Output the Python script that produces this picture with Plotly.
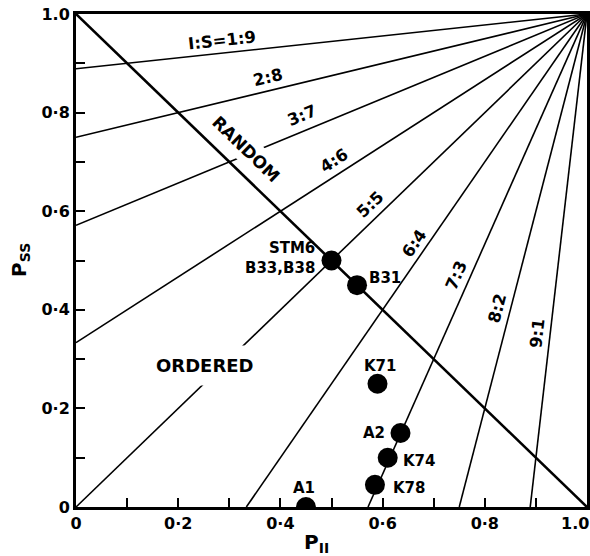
import math
import plotly.graph_objects as go

# ---------------- data ----------------
ratio_labels = ["I:S=1:9", "2:8", "3:7", "4:6", "5:5", "6:4", "7:3", "8:2", "9:1"]
i_parts = [1, 2, 3, 4, 5, 6, 7, 8, 9]
s_parts = [9, 8, 7, 6, 5, 4, 3, 2, 1]

samples = ["STM6<br>B33,B38", "B31", "K71", "A2", "K74", "K78", "A1"]
p_ii = [0.50, 0.55, 0.59, 0.635, 0.61, 0.585, 0.45]
p_ss = [0.50, 0.45, 0.25, 0.15, 0.10, 0.045, 0.0]

random_x = [0.0, 1.0]
random_y = [1.0, 0.0]

x_tick_vals = [0, 0.2, 0.4, 0.6, 0.8]
x_tick_text = ["0", "0·2", "0·4", "0·6", "0·8"]
y_tick_vals = [0, 0.2, 0.4, 0.6, 0.8, 1.0]
y_tick_text = ["0", "0·2", "0·4", "0·6", "0·8", "1.0"]

# ---------------- layout geometry (pixels) ----------------
W, H = 590, 556
ML, MR, MT, MB = 76, 3, 14, 49
PW, PH = W - ML - MR, H - MT - MB
FONT = "DejaVu Sans"
BLACK = "#000000"


def dx(px):
    return (px - ML) / PW


def dy(py):
    return (MT + PH - py) / PH


fig = go.Figure()

# iso-ratio lines through (1,1)
line_angles = []
for ip, sp in zip(i_parts, s_parts):
    r = ip / sp  # (1-Pss)/(1-Pii)
    if r <= 1:
        x0, y0 = 0.0, 1.0 - r
    else:
        x0, y0 = 1.0 - 1.0 / r, 0.0
    fig.add_trace(go.Scatter(x=[x0, 1.0], y=[y0, 1.0], mode="lines",
                             line=dict(color=BLACK, width=1.6),
                             hoverinfo="skip", showlegend=False))
    slope_px = ((1.0 - y0) / (1.0 - x0)) * PH / PW
    line_angles.append(-math.degrees(math.atan(slope_px)))

# random line
fig.add_trace(go.Scatter(x=random_x, y=random_y, mode="lines",
                         line=dict(color=BLACK, width=2.6),
                         hoverinfo="skip", showlegend=False))

# sample points
fig.add_trace(go.Scatter(x=p_ii, y=p_ss, mode="markers",
                         marker=dict(color=BLACK, size=20, line=dict(width=0)),
                         cliponaxis=True, showlegend=False))

ann = []
# ratio labels (pixel centres)
ratio_label_pos = [(222, 40), (268, 77), (302, 115), (334, 160), (370, 204),
                   (414, 243), (456, 275), (497, 308), (537, 333)]
for txt, (px, py), ang in zip(ratio_labels, ratio_label_pos, line_angles):
    ann.append(dict(x=dx(px), y=dy(py), xref="x", yref="y", text=txt,
                    showarrow=False, textangle=ang, xanchor="center",
                    yanchor="middle",
                    font=dict(family=FONT, size=16.5, color=BLACK, weight="bold")))

# region labels
ann.append(dict(x=dx(246), y=dy(149), xref="x", yref="y", text="RANDOM",
                showarrow=False, textangle=44, bgcolor="white", borderpad=3,
                font=dict(family=FONT, size=17, color=BLACK, weight="bold")))
ann.append(dict(x=dx(205), y=dy(365), xref="x", yref="y", text="ORDERED",
                showarrow=False, bgcolor="white", borderpad=9,
                font=dict(family=FONT, size=18, color=BLACK, weight="bold")))

# sample labels: (px, py, xanchor)
sample_label_pos = [(317, 258, "right"), (367, 278, "left"), (380, 366, "center"),
                    (387, 433, "right"), (401, 461, "left"), (391, 488, "left"),
                    (304, 488, "center")]
for txt, (px, py, xa) in zip(samples, sample_label_pos):
    ann.append(dict(x=dx(px), y=dy(py), xref="x", yref="y", text=txt,
                    showarrow=False, xanchor=xa, yanchor="middle",
                    align="right" if xa == "right" else "left",
                    font=dict(family=FONT, size=15, color=BLACK, weight="bold")))

# x tick label "1.0" (shifted inward as in reference)
ann.append(dict(x=dx(575), y=dy(523), xref="paper", yref="paper", text="1.0",
                showarrow=False, xanchor="center", yanchor="middle",
                font=dict(family=FONT, size=16, color=BLACK, weight="bold")))

# axis titles
ann.append(dict(x=dx(316), y=dy(543), xref="paper", yref="paper",
                text="P<sub>II</sub>", showarrow=False, xanchor="center",
                yanchor="middle",
                font=dict(family=FONT, size=20, color=BLACK, weight="bold")))
ann.append(dict(x=dx(20), y=dy(260), xref="paper", yref="paper",
                text="P<sub>SS</sub>", showarrow=False, textangle=-90,
                xanchor="center", yanchor="middle",
                font=dict(family=FONT, size=20, color=BLACK, weight="bold")))

axis_common = dict(range=[0, 1], showgrid=False, zeroline=False,
                   automargin=False,
                   showline=True, linewidth=3, linecolor=BLACK, mirror=True,
                   ticks="inside", ticklen=9, tickwidth=2, tickcolor=BLACK,
                   minor=dict(ticks="inside", ticklen=9, tickwidth=2,
                              tickcolor=BLACK, dtick=0.1, showgrid=False),
                   tickfont=dict(family=FONT, size=16, color=BLACK, weight="bold"))

fig.update_layout(
    width=W, height=H,
    margin=dict(l=ML, r=MR, t=MT, b=MB, pad=0, autoexpand=False),
    paper_bgcolor="white", plot_bgcolor="white",
    xaxis=dict(**axis_common, tickvals=x_tick_vals, ticktext=x_tick_text),
    yaxis=dict(**axis_common, tickvals=y_tick_vals, ticktext=y_tick_text),
    annotations=ann,
    showlegend=False,
)

fig.write_html("out.html",
               config={"displayModeBar": False},
               post_script="document.body.style.margin='0px';"
                           "document.body.style.padding='0px';"
                           "document.body.style.overflow='hidden';")
